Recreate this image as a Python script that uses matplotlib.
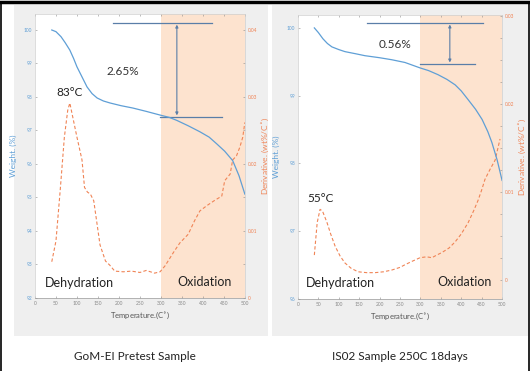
import matplotlib.pyplot as plt
from matplotlib.patches import Rectangle
from matplotlib.ticker import MultipleLocator

# left panel: GoM-EI pretest sample
gom_temp = [40, 50, 62, 72, 83, 92, 100, 112, 124, 136, 148, 163, 179, 205, 233, 265, 298,
            320, 338, 365, 393, 415, 433, 452, 471, 486, 500]
gom_weight = [100.0, 99.95, 99.8, 99.62, 99.4, 99.15, 98.9, 98.6, 98.3, 98.1, 97.97, 97.88, 97.82,
              97.74, 97.67, 97.57, 97.46, 97.39, 97.3, 97.14, 96.96, 96.8, 96.6, 96.38, 96.1, 95.65, 95.1]
gom_dtemp = [40, 50, 60, 70, 78, 83, 90, 100, 112, 118, 125, 132, 140, 155, 168, 178, 190, 210,
             230, 250, 265, 285, 298, 310, 330, 345, 365, 380, 393, 410, 429, 445, 452, 465, 471,
             480, 488, 495, 500]
gom_deriv = [0.0054, 0.0085, 0.016, 0.024, 0.028, 0.0291, 0.027, 0.024, 0.0206, 0.0165, 0.0158,
             0.0155, 0.0145, 0.0079, 0.0055, 0.0049, 0.0040, 0.0039, 0.0040, 0.0038, 0.0041,
             0.0037, 0.0039, 0.0048, 0.0068, 0.0082, 0.0095, 0.0115, 0.013, 0.0138, 0.0146, 0.0152,
             0.0175, 0.0185, 0.0206, 0.0212, 0.0225, 0.024, 0.0262]

# right panel: IS02 sample 250C 18 days
is_temp = [40, 50, 61, 72, 83, 100, 115, 140, 164, 200, 230, 262, 299, 320, 343, 365, 385, 400,
           417, 435, 451, 465, 475, 488, 500]
is_weight = [100.0, 99.93, 99.84, 99.77, 99.72, 99.68, 99.65, 99.62, 99.59, 99.56, 99.53, 99.49,
             99.41, 99.37, 99.31, 99.24, 99.16, 99.07, 98.94, 98.8, 98.65, 98.47, 98.31, 98.05, 97.75]
is_dtemp = [40, 47, 54, 60, 71, 80, 91, 103, 115, 130, 147, 168, 189, 210, 230, 250, 262, 280,
            299, 315, 328, 340, 353, 370, 385, 400, 417, 430, 441, 450, 458, 470, 483, 495]
is_deriv = [0.0028, 0.0065, 0.008, 0.0078, 0.0065, 0.0052, 0.0038, 0.0027, 0.0019, 0.0013, 0.0009,
            0.0008, 0.0008, 0.0009, 0.0011, 0.0014, 0.0017, 0.0021, 0.0025, 0.0026, 0.0025, 0.0028,
            0.0031, 0.0036, 0.0043, 0.0052, 0.0065, 0.0078, 0.009, 0.0102, 0.0114, 0.0125, 0.0136,
            0.016]

captions = ["GoM-EI Pretest Sample", "IS02 Sample 250C 18days"]

BLUE = "#5f9fd6"
ORANGE = "#f08456"
SHADE = "#fde3cf"
ARROW = "#5a7ea8"
TICKC = "#8a8a8a"

plt.rcParams["font.family"] = ["Lato", "DejaVu Sans"]

fig = plt.figure(figsize=(5.3, 3.71), dpi=100)
fig.patch.set_facecolor("white")

# gray panel backgrounds and black frame
fig.add_artist(Rectangle((0.026, 0.094), 0.479, 0.892, transform=fig.transFigure,
                         facecolor="#efefef", edgecolor="none", zorder=-5))
fig.add_artist(Rectangle((0.513, 0.094), 0.483, 0.892, transform=fig.transFigure,
                         facecolor="#efefef", edgecolor="none", zorder=-5))
fig.add_artist(plt.Line2D([0, 1], [0.994, 0.994], transform=fig.transFigure, color="black", lw=2.5))
fig.add_artist(plt.Line2D([0.002, 0.002], [0, 0.994], transform=fig.transFigure, color="black", lw=1.2))
fig.add_artist(plt.Line2D([0.998, 0.998], [0, 0.994], transform=fig.transFigure, color="black", lw=1.2))


def draw_panel(rect, temp, weight, dtemp, deriv, wlim, dlim, dminor):
    ax = fig.add_axes(rect)
    ax.plot(temp, weight, color=BLUE, lw=0.9, zorder=3)
    ax.set_xlim(0, 500)
    ax.set_ylim(*wlim)
    ax.xaxis.set_major_locator(MultipleLocator(50))
    ax.yaxis.set_major_locator(MultipleLocator(1))
    ax.tick_params(axis="both", labelsize=3.5, colors=TICKC, length=1.5, width=0.4,
                   direction="in", top=True, pad=2)
    ax.tick_params(axis="y", labelcolor=BLUE)
    ax.set_xlabel("Temperature.(C$^{\\circ}$)", fontsize=5.5, color="#555555", labelpad=3)
    ax.set_ylabel("Weight. (%)", fontsize=6, color=BLUE, labelpad=5)
    for s in ax.spines.values():
        s.set_color("#cfcfcf")
        s.set_linewidth(0.5)
    ax.spines["bottom"].set_color("#9a9a9a")

    # derivative axis sits underneath, carrying the white face and the oxidation shade
    ax2 = ax.twinx()
    ax2.axvspan(0, 300, color="white", zorder=0, lw=0)
    ax2.axvspan(300, 500, color=SHADE, zorder=0, lw=0)
    ax2.plot(dtemp, deriv, color=ORANGE, lw=0.8, ls=(0, (3, 2)), zorder=2)
    ax2.set_xlim(0, 500)
    ax2.set_ylim(*dlim)
    ax2.yaxis.set_major_locator(MultipleLocator(0.01))
    ax2.yaxis.set_minor_locator(MultipleLocator(dminor))
    ax2.yaxis.set_major_formatter(lambda v, p: "0" if abs(v) < 1e-9 else f"{v:.2f}")
    ax2.tick_params(axis="y", which="both", labelsize=3.5, colors=TICKC, labelcolor=ORANGE,
                    length=1.5, width=0.4, direction="in", pad=2)
    ax2.set_ylabel("Derivative. (wt%/C$^{\\circ}$)", fontsize=6, color=ORANGE, labelpad=2)
    for s in ax2.spines.values():
        s.set_visible(False)
    ax.set_zorder(ax2.get_zorder() + 1)
    ax.patch.set_visible(False)
    return ax, ax2


# left panel
axL, axL2 = draw_panel([0.066, 0.197, 0.396, 0.7655], gom_temp, gom_weight, gom_dtemp, gom_deriv,
                       (92, 100.48), (0, 0.0424), 0.005)
axL.plot([186, 421], [100.21, 100.21], color=ARROW, lw=0.9)
axL.plot([298, 445], [97.40, 97.40], color=ARROW, lw=0.9)
axL.annotate("", xy=(338, 100.16), xytext=(338, 97.45),
             arrowprops=dict(arrowstyle="<|-|>", color=ARROW, lw=0.8, mutation_scale=4,
                             shrinkA=0, shrinkB=0))
axL.text(210, 98.75, "2.65%", fontsize=8.5, ha="center", va="center", color="#333333")
axL.text(83, 98.12, "83°C", fontsize=8.5, ha="center", va="center", color="#222222")
axL.text(107, 92.45, "Dehydration", fontsize=9, ha="center", va="center", color="#222222")
axL.text(405, 92.48, "Oxidation", fontsize=9, ha="center", va="center", color="#222222")

# right panel
axR, axR2 = draw_panel([0.5623, 0.194, 0.385, 0.7655], is_temp, is_weight, is_dtemp, is_deriv,
                       (96, 100.19), (-0.0022, 0.0301), 0.0025)
axR.plot([169, 453], [100.07, 100.07], color=ARROW, lw=0.9)
axR.plot([299, 434], [99.47, 99.47], color=ARROW, lw=0.9)
axR.annotate("", xy=(372, 100.05), xytext=(372, 99.49),
             arrowprops=dict(arrowstyle="<|-|>", color=ARROW, lw=0.8, mutation_scale=4,
                             shrinkA=0, shrinkB=0))
axR.text(238, 99.76, "0.56%", fontsize=8.5, ha="center", va="center", color="#333333")
axR.text(54, 97.49, "55°C", fontsize=8.5, ha="center", va="center", color="#222222")
axR.text(103, 96.24, "Dehydration", fontsize=9, ha="center", va="center", color="#222222")
axR.text(409, 96.25, "Oxidation", fontsize=9, ha="center", va="center", color="#222222")

fig.text(135 / 530, 1 - 356 / 371, captions[0], fontsize=8.5, ha="center", va="center", color="#222222")
fig.text(400 / 530, 1 - 356 / 371, captions[1], fontsize=8.5, ha="center", va="center", color="#222222")

fig.savefig("out.png", dpi=100)
